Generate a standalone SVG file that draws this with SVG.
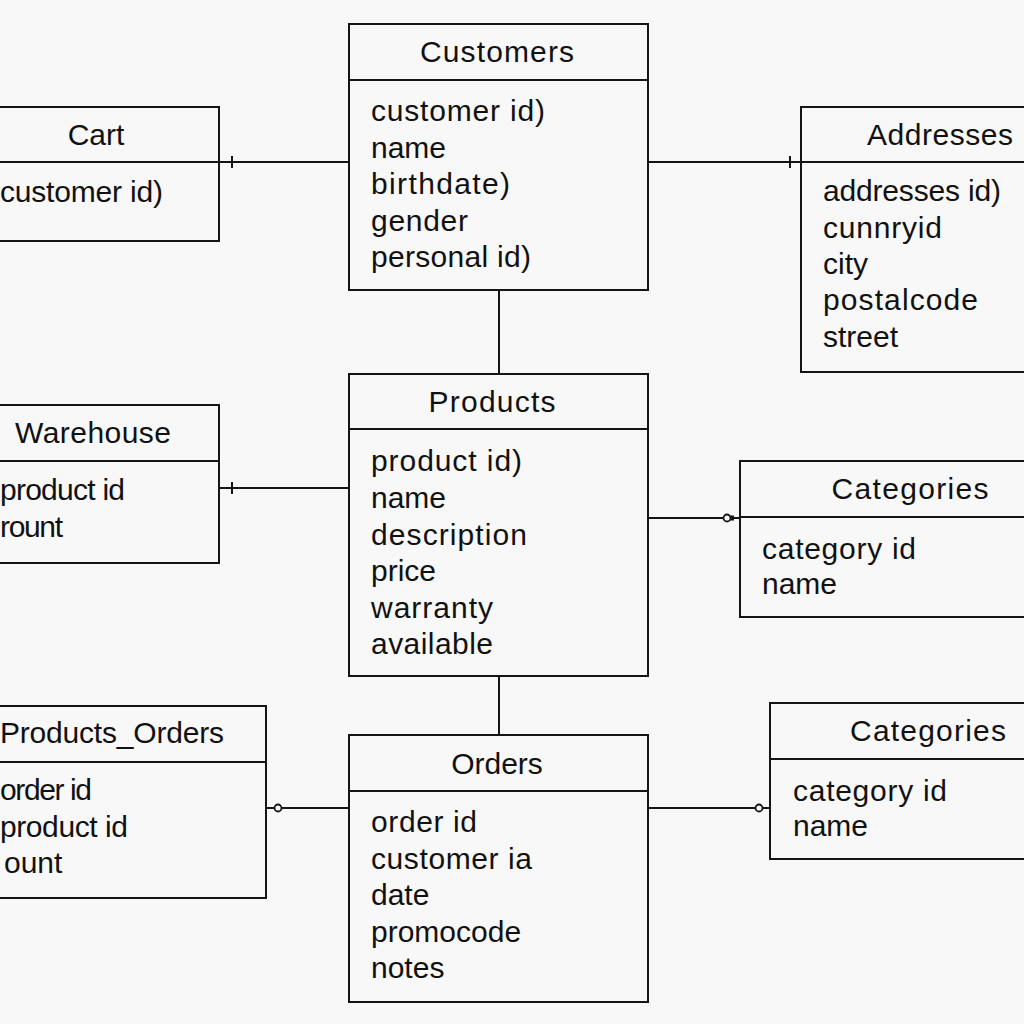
<svg xmlns="http://www.w3.org/2000/svg" width="1024" height="1024" viewBox="0 0 1024 1024">
<style>
.bg{fill:#f8f8f8}
.box{fill:#f8f8f8;stroke:#151515;stroke-width:2}
.div{stroke:#151515;stroke-width:2}
.t{font-family:"Liberation Sans",Arial,sans-serif;font-size:30px;fill:#111}
.title{text-anchor:middle}
.con line{stroke:#151515;stroke-width:2}
.tick{stroke:#151515;stroke-width:2}
.ring{fill:#f8f8f8;stroke:#151515;stroke-width:1.8}
</style>
<rect class="bg" x="0" y="0" width="1024" height="1024"/>

<g id="connectors" class="con">
<line x1="219" y1="162" x2="349" y2="162"/>
<line class="tick" x1="232" y1="156" x2="232" y2="168"/>
<line x1="648" y1="162" x2="801" y2="162"/>
<line class="tick" x1="790" y1="156" x2="790" y2="168"/>
<line x1="499" y1="290" x2="499" y2="374"/>
<line x1="219" y1="488" x2="349" y2="488"/>
<line class="tick" x1="232" y1="482" x2="232" y2="494"/>
<line x1="648" y1="518" x2="740" y2="518"/>
<circle class="ring" cx="727" cy="518" r="3.5"/>
<rect x="730" y="515.5" width="4" height="5" fill="#151515"/>
<line x1="499" y1="676" x2="499" y2="735"/>
<line x1="266" y1="808" x2="349" y2="808"/>
<circle class="ring" cx="278" cy="808" r="3.5"/>
<line x1="648" y1="808" x2="770" y2="808"/>
<circle class="ring" cx="759" cy="808" r="3.5"/>
</g>

<g id="customers">
<rect class="box" x="349" y="24" width="299" height="266"/>
<line class="div" x1="349" y1="80" x2="648" y2="80"/>
<text class="t title" x="497" y="62" textLength="154">Customers</text>
<text class="t" x="371" y="121" textLength="174">customer id)</text>
<text class="t" x="371" y="157.5">name</text>
<text class="t" x="371" y="194" textLength="139">birthdate)</text>
<text class="t" x="371" y="230.5" textLength="97">gender</text>
<text class="t" x="371" y="267" textLength="160">personal id)</text>
</g>

<g id="cart">
<rect class="box" x="-10" y="107" width="229" height="134"/>
<line class="div" x1="-10" y1="162" x2="219" y2="162"/>
<text class="t title" x="96" y="145">Cart</text>
<text class="t" x="0" y="202" textLength="163">customer id)</text>
</g>

<g id="addresses">
<rect class="box" x="801" y="107" width="240" height="265"/>
<line class="div" x1="801" y1="162" x2="1041" y2="162"/>
<text class="t title" x="940" y="145" textLength="146">Addresses</text>
<text class="t" x="823" y="201" textLength="178">addresses id)</text>
<text class="t" x="823" y="237.5" textLength="119">cunnryid</text>
<text class="t" x="823" y="274">city</text>
<text class="t" x="823" y="310" textLength="155">postalcode</text>
<text class="t" x="823" y="346.5">street</text>
</g>

<g id="products">
<rect class="box" x="349" y="374" width="299" height="302"/>
<line class="div" x1="349" y1="429" x2="648" y2="429"/>
<text class="t title" x="492" y="412" textLength="127">Products</text>
<text class="t" x="371" y="471" textLength="151">product id)</text>
<text class="t" x="371" y="508">name</text>
<text class="t" x="371" y="544.5" textLength="156">description</text>
<text class="t" x="371" y="581">price</text>
<text class="t" x="371" y="617.5" textLength="122">warranty</text>
<text class="t" x="371" y="654" textLength="122">available</text>
</g>

<g id="warehouse">
<rect class="box" x="-10" y="405" width="229" height="158"/>
<line class="div" x1="-10" y1="461" x2="219" y2="461"/>
<text class="t title" x="93" y="443" textLength="156">Warehouse</text>
<text class="t" x="0" y="500" textLength="125">product id</text>
<text class="t" x="0" y="537" textLength="63">rount</text>
</g>

<g id="categories1">
<rect class="box" x="740" y="461" width="300" height="156"/>
<line class="div" x1="740" y1="517" x2="1040" y2="517"/>
<text class="t title" x="910" y="499" textLength="157">Categories</text>
<text class="t" x="762" y="559" textLength="154">category id</text>
<text class="t" x="762" y="594">name</text>
</g>

<g id="products_orders">
<rect class="box" x="-10" y="706" width="276" height="192"/>
<line class="div" x1="-10" y1="762" x2="266" y2="762"/>
<text class="t" x="0" y="743" textLength="224">Products_Orders</text>
<text class="t" x="0" y="800" textLength="92">order id</text>
<text class="t" x="0" y="837" textLength="128">product id</text>
<text class="t" x="4" y="873">ount</text>
</g>

<g id="orders">
<rect class="box" x="349" y="735" width="299" height="267"/>
<line class="div" x1="349" y1="791" x2="648" y2="791"/>
<text class="t title" x="497" y="774">Orders</text>
<text class="t" x="371" y="832" textLength="106">order id</text>
<text class="t" x="371" y="868.5" textLength="161">customer ia</text>
<text class="t" x="371" y="905">date</text>
<text class="t" x="371" y="941.5">promocode</text>
<text class="t" x="371" y="978">notes</text>
</g>

<g id="categories2">
<rect class="box" x="770" y="703" width="270" height="156"/>
<line class="div" x1="770" y1="759" x2="1040" y2="759"/>
<text class="t title" x="928" y="741" textLength="156">Categories</text>
<text class="t" x="793" y="801" textLength="154">category id</text>
<text class="t" x="793" y="836">name</text>
</g>
</svg>
